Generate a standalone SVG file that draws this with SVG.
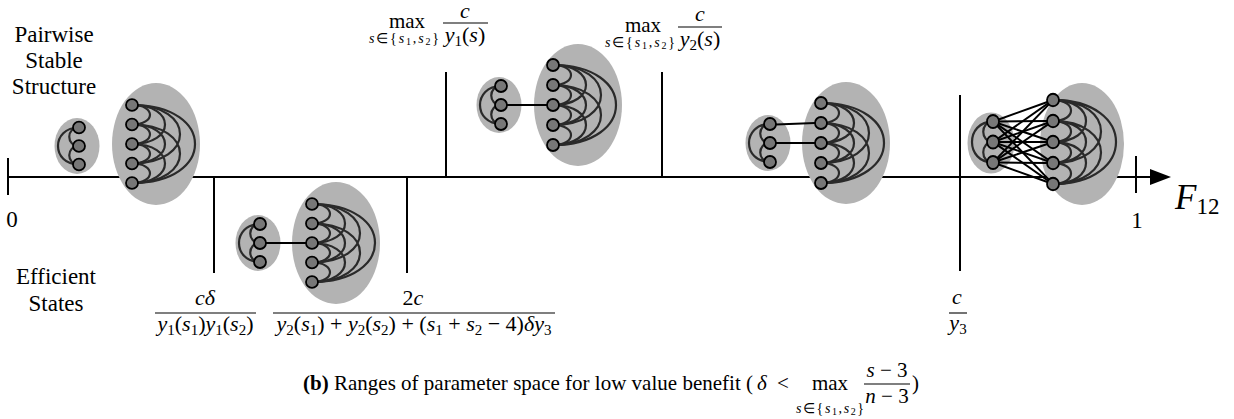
<svg xmlns="http://www.w3.org/2000/svg" xmlns:xlink="http://www.w3.org/1999/xlink" width="1234" height="419" viewBox="0 0 1234 419">
<style>
.ax{stroke:#000;stroke-width:2;fill:none}
.bar{stroke:#000;stroke-width:1.1}
.hull{fill:#b3b3b3}
.arc{fill:none;stroke:#2a2a2a;stroke-width:2.2}
.nd{fill:#777;stroke:#000;stroke-width:1.8}
.edge{stroke:#000;stroke-width:2;fill:none}
.i{font-style:italic}
</style>
<defs>
<g id="bigA" class="arc">
<path d="M0,-40C24,-40 24,-20 0,-20M0,-20C24,-20 24,0 0,0M0,0C24,0 24,20 0,20M0,20C24,20 24,40 0,40"/>
<path d="M0,-40C44,-40 44,0 0,0M0,-20C44,-20 44,20 0,20M0,0C44,0 44,40 0,40"/>
<path d="M0,-40C64,-40 64,20 0,20M0,-20C64,-20 64,40 0,40"/>
<path d="M0,-40C84,-40 84,40 0,40"/>
</g>
<g id="bigN" class="nd">
<circle cx="0" cy="-40" r="6"/><circle cx="0" cy="-20" r="6"/><circle cx="0" cy="0" r="6"/><circle cx="0" cy="20" r="6"/><circle cx="0" cy="40" r="6"/>
</g>
<g id="smA" class="arc">
<path d="M0,-19C-13,-19 -13,0 0,0M0,0C-13,0 -13,19 0,19M0,-19C-28,-19 -28,19 0,19"/>
</g>
<g id="smN" class="nd">
<circle cx="0" cy="-19" r="6"/><circle cx="0" cy="0" r="6"/><circle cx="0" cy="19" r="6"/>
</g>
</defs>
<rect width="1234" height="419" fill="#fff"/>

<g id="axis">
<line class="ax" x1="8" y1="177" x2="1152" y2="177"/>
<polygon points="1150,169 1171,177 1150,185" fill="#000"/>
<line class="ax" x1="8" y1="158" x2="8" y2="195"/>
<line class="ax" x1="1136" y1="156" x2="1136" y2="193"/>
<line class="ax" x1="214" y1="177" x2="214" y2="273"/>
<line class="ax" x1="407" y1="177" x2="407" y2="273"/>
<line class="ax" x1="446" y1="72" x2="446" y2="177"/>
<line class="ax" x1="662" y1="72" x2="662" y2="177"/>
<line class="ax" x1="960" y1="95" x2="960" y2="271"/>
</g>

<g id="state1-small">
<ellipse class="hull" cx="77" cy="146" rx="22.5" ry="28"/>
<use xlink:href="#smA" transform="translate(79,146) scale(1,0.974)"/>
<use xlink:href="#smN" transform="translate(79,146) scale(1,0.974)"/>
</g>
<g id="state1-big">
<ellipse class="hull" cx="156" cy="144" rx="44" ry="61"/>
<use xlink:href="#bigA" transform="translate(132,144) scale(1,0.975)"/>
<use xlink:href="#bigN" transform="translate(132,144) scale(1,0.975)"/>
</g>

<g id="state2-small">
<ellipse class="hull" cx="258" cy="243" rx="22.5" ry="28"/>
<use xlink:href="#smA" transform="translate(260,243)"/>
<use xlink:href="#smN" transform="translate(260,243)"/>
</g>
<g id="state2-big">
<ellipse class="hull" cx="336" cy="243" rx="44" ry="61"/>
<use xlink:href="#bigA" transform="translate(312,243) scale(1,0.975)"/>
<use xlink:href="#bigN" transform="translate(312,243) scale(1,0.975)"/>
</g>

<g id="state3-small">
<ellipse class="hull" cx="499" cy="105" rx="22.5" ry="28"/>
<use xlink:href="#smA" transform="translate(501,105)"/>
<use xlink:href="#smN" transform="translate(501,105)"/>
</g>
<g id="state3-big">
<ellipse class="hull" cx="578" cy="105" rx="44" ry="61"/>
<use xlink:href="#bigA" transform="translate(553,105)"/>
<use xlink:href="#bigN" transform="translate(553,105)"/>
</g>

<g id="state4-small">
<ellipse class="hull" cx="768" cy="143" rx="22.5" ry="28"/>
<use xlink:href="#smA" transform="translate(770,143)"/>
<use xlink:href="#smN" transform="translate(770,143)"/>
</g>
<g id="state4-big">
<ellipse class="hull" cx="846" cy="143" rx="44" ry="61"/>
<use xlink:href="#bigA" transform="translate(821,143)"/>
<use xlink:href="#bigN" transform="translate(821,143)"/>
</g>

<g id="state5-small">
<ellipse class="hull" cx="991" cy="143" rx="23.5" ry="30.5"/>
<use xlink:href="#smA" transform="translate(993,142) scale(1,1.079)"/>
<use xlink:href="#smN" transform="translate(993,142) scale(1,1.079)"/>
</g>
<g id="state5-big">
<ellipse class="hull" cx="1082" cy="144" rx="42" ry="61"/>
<use xlink:href="#bigA" transform="translate(1053,142) scale(1,1.05)"/>
<use xlink:href="#bigN" transform="translate(1053,142) scale(1,1.05)"/>
</g>

<g id="connectors" class="edge">
<line x1="266" y1="243" x2="306" y2="243"/>
<line x1="507" y1="105" x2="547" y2="105"/>
<line x1="776" y1="124.5" x2="815" y2="123"/>
<line x1="776" y1="143" x2="815" y2="143"/>
<line x1="998.65" y1="119.48" x2="1047.35" y2="102.02"/>
<line x1="999" y1="121.45" x2="1047" y2="121.05"/>
<line x1="998.68" y1="123.44" x2="1047.32" y2="140.06"/>
<line x1="997.93" y1="124.91" x2="1048.07" y2="159.59"/>
<line x1="997.15" y1="125.83" x2="1048.85" y2="179.67"/>
<line x1="997.92" y1="138.56" x2="1048.08" y2="103.44"/>
<line x1="998.66" y1="140.02" x2="1047.34" y2="122.98"/>
<line x1="999" y1="142" x2="1047" y2="142"/>
<line x1="998.66" y1="143.98" x2="1047.34" y2="161.02"/>
<line x1="997.92" y1="145.44" x2="1048.08" y2="180.56"/>
<line x1="997.15" y1="158.17" x2="1048.85" y2="104.33"/>
<line x1="997.93" y1="159.09" x2="1048.07" y2="124.41"/>
<line x1="998.68" y1="160.56" x2="1047.32" y2="143.94"/>
<line x1="999" y1="162.55" x2="1047" y2="162.95"/>
<line x1="998.65" y1="164.52" x2="1047.35" y2="181.98"/>
</g>

<g id="labels" fill="#000">
<text font-family="Liberation Serif" x="54" y="42" font-size="23" text-anchor="middle">Pairwise</text>
<text font-family="Liberation Serif" x="54" y="68" font-size="23" text-anchor="middle">Stable</text>
<text font-family="Liberation Serif" x="54" y="94" font-size="23" text-anchor="middle">Structure</text>
<text font-family="Liberation Serif" x="56" y="284" font-size="23" text-anchor="middle">Efficient</text>
<text font-family="Liberation Serif" x="56" y="311" font-size="23" text-anchor="middle">States</text>
<text font-family="Liberation Serif" x="12" y="227" font-size="23" text-anchor="middle">0</text>
<text font-family="Liberation Serif" x="1137" y="228" font-size="23" text-anchor="middle">1</text>
<text font-family="Liberation Serif" x="1175" y="209" font-size="35"><tspan class="i">F</tspan><tspan font-size="23" dy="5">12</tspan></text>

<text font-family="Liberation Serif" x="407" y="28" font-size="21" text-anchor="middle">max</text>
<text font-family="Liberation Serif" x="404" y="43" font-size="14" text-anchor="middle" textLength="70" lengthAdjust="spacing"><tspan class="i">s</tspan>∈{<tspan class="i">s</tspan><tspan font-size="10" dy="2">1</tspan><tspan dy="-2">,</tspan><tspan class="i">s</tspan><tspan font-size="10" dy="2">2</tspan><tspan dy="-2">}</tspan></text>
<text font-family="Liberation Serif" x="465" y="18" font-size="22" text-anchor="middle" class="i">c</text>
<line class="bar" x1="443" y1="23" x2="488" y2="23"/>
<text font-family="Liberation Serif" x="465" y="42" font-size="22" text-anchor="middle"><tspan class="i">y</tspan><tspan font-size="15" dy="4">1</tspan><tspan dy="-4">(</tspan><tspan class="i">s</tspan>)</text>

<text font-family="Liberation Serif" x="643" y="32" font-size="21" text-anchor="middle">max</text>
<text font-family="Liberation Serif" x="640" y="47" font-size="14" text-anchor="middle" textLength="70" lengthAdjust="spacing"><tspan class="i">s</tspan>∈{<tspan class="i">s</tspan><tspan font-size="10" dy="2">1</tspan><tspan dy="-2">,</tspan><tspan class="i">s</tspan><tspan font-size="10" dy="2">2</tspan><tspan dy="-2">}</tspan></text>
<text font-family="Liberation Serif" x="700" y="21" font-size="22" text-anchor="middle" class="i">c</text>
<line class="bar" x1="678" y1="27" x2="722" y2="27"/>
<text font-family="Liberation Serif" x="700" y="46" font-size="22" text-anchor="middle"><tspan class="i">y</tspan><tspan font-size="15" dy="4">2</tspan><tspan dy="-4">(</tspan><tspan class="i">s</tspan>)</text>

<text font-family="Liberation Serif" x="205" y="305" font-size="22" text-anchor="middle" class="i">cδ</text>
<line class="bar" x1="155" y1="313" x2="256" y2="313"/>
<text font-family="Liberation Serif" x="205.5" y="331" font-size="22" text-anchor="middle"><tspan class="i">y</tspan><tspan font-size="15" dy="4">1</tspan><tspan dy="-4">(</tspan><tspan class="i">s</tspan><tspan font-size="15" dy="4">1</tspan><tspan dy="-4">)</tspan><tspan class="i">y</tspan><tspan font-size="15" dy="4">1</tspan><tspan dy="-4">(</tspan><tspan class="i">s</tspan><tspan font-size="15" dy="4">2</tspan><tspan dy="-4">)</tspan></text>

<text font-family="Liberation Serif" x="413" y="305" font-size="22" text-anchor="middle">2<tspan class="i">c</tspan></text>
<line class="bar" x1="273" y1="313" x2="555" y2="313"/>
<text font-family="Liberation Serif" x="414" y="331" font-size="22" text-anchor="middle"><tspan class="i">y</tspan><tspan font-size="15" dy="4">2</tspan><tspan dy="-4">(</tspan><tspan class="i">s</tspan><tspan font-size="15" dy="4">1</tspan><tspan dy="-4">) + </tspan><tspan class="i">y</tspan><tspan font-size="15" dy="4">2</tspan><tspan dy="-4">(</tspan><tspan class="i">s</tspan><tspan font-size="15" dy="4">2</tspan><tspan dy="-4">) + (</tspan><tspan class="i">s</tspan><tspan font-size="15" dy="4">1</tspan><tspan dy="-4"> + </tspan><tspan class="i">s</tspan><tspan font-size="15" dy="4">2</tspan><tspan dy="-4"> − 4)</tspan><tspan class="i">δy</tspan><tspan font-size="15" dy="4">3</tspan></text>

<text font-family="Liberation Serif" x="957" y="304" font-size="22" text-anchor="middle" class="i">c</text>
<line class="bar" x1="949" y1="313" x2="967" y2="313"/>
<text font-family="Liberation Serif" x="958" y="330" font-size="22" text-anchor="middle"><tspan class="i">y</tspan><tspan font-size="15" dy="4">3</tspan></text>

<text font-family="Liberation Serif" x="303" y="390" font-size="21" textLength="450" lengthAdjust="spacing"><tspan font-weight="bold">(b)</tspan> Ranges of parameter space for low value benefit (</text>
<text font-family="Liberation Serif" x="757" y="390" font-size="21" class="i">δ</text>
<text font-family="Liberation Serif" x="777" y="390" font-size="21">&lt;</text>
<text font-family="Liberation Serif" x="830" y="390" font-size="21" text-anchor="middle">max</text>
<text font-family="Liberation Serif" x="830" y="413" font-size="14" text-anchor="middle" textLength="68" lengthAdjust="spacing"><tspan class="i">s</tspan>∈{<tspan class="i">s</tspan><tspan font-size="10" dy="2">1</tspan><tspan dy="-2">,</tspan><tspan class="i">s</tspan><tspan font-size="10" dy="2">2</tspan><tspan dy="-2">}</tspan></text>
<text font-family="Liberation Serif" x="887" y="377" font-size="21" text-anchor="middle"><tspan class="i">s</tspan> − 3</text>
<line class="bar" x1="864" y1="384" x2="910" y2="384"/>
<text font-family="Liberation Serif" x="887" y="403" font-size="21" text-anchor="middle"><tspan class="i">n</tspan> − 3</text>
<text font-family="Liberation Serif" x="912" y="390" font-size="21">)</text>
</g>
</svg>
